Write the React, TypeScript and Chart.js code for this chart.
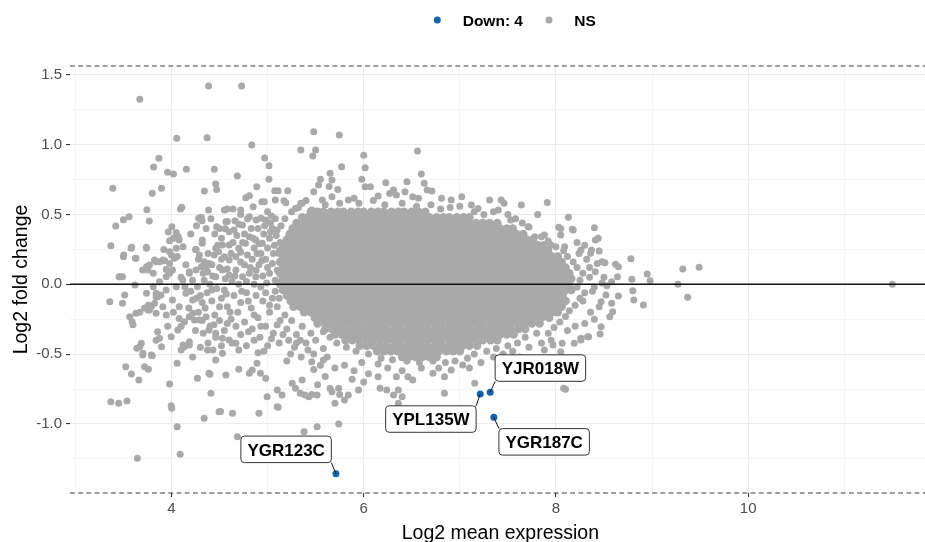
import React, { useEffect, useRef } from 'react';
import { Chart, registerables } from 'chart.js';

Chart.register(...registerables);

// ---------------- DATA ----------------
// Dense core of the NS cloud: each row is [log2FC, [log2 mean expression values]]
const nsCoreRows: [number, number[]][] = [
  [0.52, [5.45,5.52,5.58,5.66,5.73,5.79,5.87,5.94,6.00,6.08,6.15,6.21,6.29,6.36,6.42,6.50,6.57,6.64]],
  [0.48, [5.36,5.42,5.50,5.57,5.63,5.71,5.78,5.84,5.92,5.99,6.05,6.13,6.20,6.26,6.34,6.41,6.47,6.55,6.62,6.68,6.76,6.83,6.89,6.97,7.04,7.10]],
  [0.44, [5.30,5.38,5.45,5.52,5.59,5.66,5.73,5.81,5.88,5.95,6.02,6.09,6.16,6.24,6.31,6.38,6.45,6.52,6.59,6.67,6.74,6.81,6.88,6.95,7.02,7.10,7.17,7.24,7.31,7.39]],
  [0.40, [5.26,5.34,5.41,5.48,5.55,5.62,5.70,5.77,5.84,5.91,5.98,6.05,6.13,6.20,6.27,6.34,6.41,6.48,6.56,6.63,6.70,6.77,6.84,6.91,6.99,7.06,7.13,7.20,7.27,7.34,7.42,7.49,7.55]],
  [0.36, [5.23,5.30,5.37,5.44,5.52,5.59,5.66,5.73,5.80,5.87,5.95,6.02,6.09,6.16,6.23,6.30,6.38,6.45,6.52,6.59,6.66,6.73,6.81,6.88,6.95,7.02,7.09,7.16,7.24,7.31,7.38,7.45,7.52,7.59,7.66]],
  [0.32, [5.20,5.27,5.34,5.41,5.48,5.55,5.62,5.69,5.77,5.84,5.91,5.98,6.05,6.12,6.20,6.27,6.34,6.41,6.48,6.55,6.63,6.70,6.77,6.84,6.91,6.98,7.06,7.13,7.20,7.27,7.34,7.41,7.49,7.56,7.63,7.70,7.76]],
  [0.28, [5.16,5.23,5.30,5.38,5.45,5.52,5.59,5.66,5.73,5.81,5.88,5.95,6.02,6.09,6.16,6.24,6.31,6.38,6.45,6.52,6.59,6.67,6.74,6.81,6.88,6.95,7.02,7.10,7.17,7.24,7.31,7.38,7.45,7.53,7.60,7.67,7.74,7.81,7.87]],
  [0.24, [5.13,5.20,5.27,5.34,5.41,5.49,5.56,5.63,5.70,5.77,5.84,5.92,5.99,6.06,6.13,6.20,6.27,6.35,6.42,6.49,6.56,6.63,6.70,6.78,6.85,6.92,6.99,7.06,7.13,7.21,7.28,7.35,7.42,7.49,7.56,7.64,7.71,7.78,7.85,7.92]],
  [0.20, [5.16,5.23,5.31,5.38,5.45,5.52,5.59,5.66,5.74,5.81,5.88,5.95,6.02,6.09,6.17,6.24,6.31,6.38,6.45,6.52,6.60,6.67,6.74,6.81,6.88,6.95,7.03,7.10,7.17,7.24,7.31,7.38,7.46,7.53,7.60,7.67,7.74,7.81,7.89,7.96,8.02]],
  [0.16, [5.13,5.20,5.27,5.35,5.42,5.49,5.56,5.63,5.70,5.78,5.85,5.92,5.99,6.06,6.13,6.21,6.28,6.35,6.42,6.49,6.56,6.64,6.71,6.78,6.85,6.92,6.99,7.07,7.14,7.21,7.28,7.35,7.42,7.50,7.57,7.64,7.71,7.78,7.85,7.93,8.00,8.06]],
  [0.12, [5.16,5.24,5.31,5.38,5.45,5.52,5.60,5.67,5.74,5.81,5.88,5.95,6.03,6.10,6.17,6.24,6.31,6.38,6.46,6.53,6.60,6.67,6.74,6.81,6.89,6.96,7.03,7.10,7.17,7.24,7.32,7.39,7.46,7.53,7.60,7.67,7.75,7.82,7.89,7.96,8.03,8.10]],
  [0.08, [5.13,5.20,5.27,5.34,5.42,5.49,5.56,5.63,5.70,5.77,5.85,5.92,5.99,6.06,6.13,6.20,6.28,6.35,6.42,6.49,6.56,6.63,6.71,6.78,6.85,6.92,6.99,7.06,7.14,7.21,7.28,7.35,7.42,7.49,7.57,7.64,7.71,7.78,7.85,7.92,8.00,8.07,8.14]],
  [0.04, [5.16,5.24,5.31,5.38,5.45,5.52,5.60,5.67,5.74,5.81,5.88,5.95,6.03,6.10,6.17,6.24,6.31,6.38,6.46,6.53,6.60,6.67,6.74,6.81,6.89,6.96,7.03,7.10,7.17,7.24,7.32,7.39,7.46,7.53,7.60,7.67,7.75,7.82,7.89,7.96,8.03,8.10,8.16]],
  [0.00, [5.13,5.20,5.27,5.34,5.42,5.49,5.56,5.63,5.70,5.77,5.85,5.92,5.99,6.06,6.13,6.20,6.28,6.35,6.42,6.49,6.56,6.63,6.71,6.78,6.85,6.92,6.99,7.06,7.14,7.21,7.28,7.35,7.42,7.49,7.57,7.64,7.71,7.78,7.85,7.92,8.00,8.07,8.14]],
  [-0.04, [5.16,5.24,5.31,5.38,5.45,5.52,5.60,5.67,5.74,5.81,5.88,5.95,6.03,6.10,6.17,6.24,6.31,6.38,6.46,6.53,6.60,6.67,6.74,6.81,6.89,6.96,7.03,7.10,7.17,7.24,7.32,7.39,7.46,7.53,7.60,7.67,7.75,7.82,7.89,7.96,8.03,8.10,8.16]],
  [-0.08, [5.20,5.27,5.34,5.42,5.49,5.56,5.63,5.70,5.77,5.85,5.92,5.99,6.06,6.13,6.20,6.28,6.35,6.42,6.49,6.56,6.63,6.71,6.78,6.85,6.92,6.99,7.06,7.14,7.21,7.28,7.35,7.42,7.49,7.57,7.64,7.71,7.78,7.85,7.92,8.00,8.07]],
  [-0.12, [5.24,5.31,5.38,5.45,5.52,5.60,5.67,5.74,5.81,5.88,5.95,6.03,6.10,6.17,6.24,6.31,6.38,6.46,6.53,6.60,6.67,6.74,6.81,6.89,6.96,7.03,7.10,7.17,7.24,7.32,7.39,7.46,7.53,7.60,7.67,7.75,7.82,7.89,7.96,8.03,8.10]],
  [-0.16, [5.27,5.34,5.42,5.49,5.56,5.63,5.70,5.77,5.85,5.92,5.99,6.06,6.13,6.20,6.28,6.35,6.42,6.49,6.56,6.63,6.71,6.78,6.85,6.92,6.99,7.06,7.14,7.21,7.28,7.35,7.42,7.49,7.57,7.64,7.71,7.78,7.85,7.92,8.00,8.06]],
  [-0.20, [5.38,5.45,5.52,5.60,5.67,5.74,5.81,5.88,5.95,6.03,6.10,6.17,6.24,6.31,6.38,6.46,6.53,6.60,6.67,6.74,6.81,6.89,6.96,7.03,7.10,7.17,7.24,7.32,7.39,7.46,7.53,7.60,7.67,7.75,7.82,7.89,7.96,8.02]],
  [-0.24, [5.49,5.56,5.63,5.70,5.77,5.85,5.92,5.99,6.06,6.13,6.20,6.28,6.35,6.42,6.49,6.56,6.63,6.71,6.78,6.85,6.92,6.99,7.06,7.14,7.21,7.28,7.35,7.42,7.49,7.57,7.64,7.71,7.78,7.85,7.93]],
  [-0.28, [5.52,5.60,5.67,5.74,5.81,5.88,5.95,6.03,6.10,6.17,6.24,6.31,6.38,6.46,6.53,6.60,6.67,6.74,6.81,6.89,6.96,7.03,7.10,7.17,7.24,7.32,7.39,7.46,7.53,7.60,7.67,7.75,7.83]],
  [-0.32, [5.60,5.67,5.74,5.81,5.89,5.96,6.03,6.10,6.17,6.24,6.32,6.39,6.46,6.53,6.60,6.67,6.75,6.82,6.89,6.96,7.03,7.10,7.18,7.25,7.32,7.39,7.46,7.53,7.61,7.68]],
  [-0.36, [5.70,5.77,5.85,5.92,5.99,6.06,6.13,6.20,6.28,6.35,6.42,6.49,6.56,6.63,6.71,6.78,6.85,6.92,6.99,7.06,7.14,7.21,7.28,7.35,7.42,7.49,7.56]],
  [-0.40, [5.81,5.88,5.95,6.03,6.10,6.17,6.24,6.31,6.38,6.46,6.53,6.60,6.67,6.74,6.81,6.89,6.96,7.03,7.10,7.17,7.24,7.32,7.39]],
  [-0.44, [5.96,6.03,6.10,6.17,6.24,6.32,6.39,6.46,6.53,6.60,6.67,6.75,6.82,6.89,6.96,7.03,7.10,7.18]],
  [-0.48, [6.14,6.21,6.28,6.35,6.42,6.50,6.57,6.64,6.71,6.78,6.86,6.93,7.00]],
  [-0.52, [6.40,6.47,6.54,6.61,6.68,6.76]],
];

// Scattered NS genes outside the dense core: [log2 mean expression, log2FC]
const nsScatter: [number, number][] = [
  // top-left outliers
  [3.67,1.325],[4.386,1.42],[4.73,1.42],[4.055,1.046],[4.37,1.05],[4.835,0.998],[5.48,1.093],[5.746,1.07],
  [5.346,0.962],[5.50,0.962],[5.47,0.919],[6.0,0.924],[6.56,0.955],[4.97,0.905],[5.014,0.85],[5.014,0.752],
  [3.869,0.903],[3.814,0.84],[3.959,0.802],[4.021,0.79],[4.155,0.824],[4.445,0.824],[4.686,0.776],[3.389,0.688],
  [3.896,0.688],[3.80,0.652],[4.093,0.539],[4.107,0.552],[3.744,0.534],[3.769,0.453],[3.558,0.484],[3.50,0.463],
  [3.42,0.418],[4.003,0.413],[3.966,0.375],[4.049,0.372],[4.07,0.341],[3.98,0.312],[4.08,0.317],[4.02,0.33],
  [3.369,0.277],[3.586,0.265],[3.738,0.265],[4.283,0.473],[4.25,0.25],
  // x 3.3-4.4 around zero and below
  [3.503,0.21],[3.624,0.186],[3.469,0.054],[3.49,0.054],[3.358,-0.125],[3.513,-0.077],[3.49,-0.136],[3.62,-0.005],
  [3.565,-0.232],[3.59,-0.268],[3.60,-0.29],[3.67,-0.2],[3.72,-0.17],[3.76,-0.15],[3.63,-0.208],[3.755,-0.184],
  [3.79,-0.16],[3.824,-0.136],[3.858,-0.089],[3.89,-0.077],[3.84,-0.064],[3.945,-0.22],[3.64,-0.458],[3.686,-0.423],
  [3.703,-0.494],[3.80,-0.511],[3.524,-0.59],[3.583,-0.643],[3.66,-0.686],[3.72,-0.59],[3.76,-0.609],[3.98,-0.714],
  [3.369,-0.841],[3.451,-0.852],[3.537,-0.836],[3.997,-0.87],[4.003,-0.888],[4.059,-1.02],[3.645,-1.246],[4.09,-1.218],
  [3.896,-0.447],[3.84,-0.40],[3.855,-0.34],[3.876,-0.387],[3.997,-0.375],[4.065,-0.327],[4.059,-0.566],[4.10,-0.47],
  [4.135,-0.447],[4.186,-0.435],[4.22,-0.52],[4.27,-0.673],[4.08,-0.244],[4.135,-0.268],[4.186,-0.232],[4.238,-0.256],
  [3.67,-0.447],[3.70,-0.506],[3.79,-0.506],[4.12,-0.435],
  [3.74,0.258],[3.58,0.258],[3.63,0.186],[3.50,0.198],[4.256,0.25],[4.29,0.21],[4.34,0.162],[4.36,0.126],
  [4.375,0.09],[3.98,0.234],[4.0,0.21],[4.03,0.186],[4.05,0.258],[3.824,0.174],[3.876,0.162],[3.93,0.169],
  [3.74,0.126],[3.755,0.102],[3.81,0.079],[3.945,0.107],[3.98,0.079],[3.455,0.054],[4.186,0.09],[4.256,0.102],
  [4.31,0.126],[4.39,0.15],[3.70,0.102],[3.77,0.138],[3.84,0.162],[3.91,0.174],[3.98,0.15],[4.01,0.102],
  [3.945,0.054],[3.876,0.019],[3.81,-0.017],[3.74,-0.064],[3.84,-0.089],[3.945,-0.041],[4.05,-0.017],[4.117,0.031],
  [4.186,0.079],[4.15,-0.064],[4.22,-0.112],[4.08,-0.16],[4.01,-0.112],[3.77,-0.184],[3.84,-0.208],[3.91,-0.16],
  [4.27,-0.017],
  [4.10,0.05],[4.15,0.14],[4.22,0.03],[4.28,0.18],[4.33,0.08],[4.06,0.20],[4.12,0.27],[4.20,0.36],
  [4.26,0.42],[4.14,-0.02],[4.20,-0.05],[4.26,-0.10],[4.32,-0.13],[4.18,-0.17],[4.10,-0.30],[4.25,-0.33],
  [4.30,-0.45],[3.96,-0.30],[4.02,-0.20],[3.92,0.25],
  // x 4.3-5.2 upper part
  [4.46,0.718],[4.47,0.68],[4.342,0.668],[4.887,0.699],[5.074,0.67],[5.11,0.67],[5.21,0.67],[4.773,0.62],
  [4.81,0.635],[4.94,0.592],[4.965,0.592],[4.85,0.556],[5.08,0.604],[5.17,0.599],[5.19,0.585],[5.346,0.58],
  [5.29,0.544],[4.386,0.532],[4.55,0.532],[4.58,0.539],[4.64,0.539],[4.72,0.532],[4.72,0.501],[4.31,0.48],
  [4.318,0.456],[4.566,0.448],[4.66,0.456],[4.738,0.425],[4.81,0.484],[4.93,0.473],[4.98,0.46],[5.05,0.40],
  [5.03,0.377],[4.47,0.413],[4.56,0.398],[4.60,0.377],[4.65,0.389],[4.32,0.317],[4.32,0.294],[4.46,0.258],
  [4.49,0.234],[4.445,0.21],[4.53,0.282],[4.60,0.282],[4.55,0.198],[4.60,0.174],[4.67,0.198],[4.70,0.258],
  [4.77,0.294],[4.81,0.341],[4.877,0.317],[4.945,0.294],[4.46,0.054],[4.53,0.102],[4.60,0.067],[4.67,0.102],
  [4.74,0.054],[4.81,0.079],[4.877,0.054],
  [4.90,0.40],[4.96,0.36],[5.02,0.33],[5.09,0.35],[5.14,0.42],[5.18,0.47],[5.08,0.47],[5.00,0.52],
  [4.86,0.26],[4.93,0.22],[5.00,0.26],[5.07,0.28],[5.12,0.22],[4.84,0.18],[4.91,0.14],[4.98,0.18],
  [5.05,0.15],[5.10,0.10],[4.88,0.10],[4.95,0.06],[5.02,0.08],[5.08,0.03],[4.76,0.14],[4.72,0.23],
  [4.64,0.30],[4.83,0.40],[4.76,0.36],[4.70,0.43],[4.88,0.46],[5.03,0.44],[4.99,0.01],[4.93,-0.02],
  [4.86,0.00],[4.78,0.02],[4.70,0.00],[4.63,0.02],[4.56,0.04],[4.50,0.12],[4.43,0.06],[4.40,0.00],
  [4.47,-0.03],[4.55,-0.04],[4.34,0.03],
  [4.45,0.36],[4.52,0.33],[4.58,0.45],[4.62,0.22],[4.68,0.35],[4.74,0.30],[4.79,0.47],[4.85,0.33],
  [4.91,0.29],[4.97,0.42],[5.04,0.49],[5.10,0.39],[5.13,0.30],[5.06,0.22],[5.00,0.12],[4.94,0.17],
  [4.89,0.22],[4.82,0.12],[4.79,0.21],[4.72,0.16],[4.66,0.06],[4.58,0.11],[4.52,0.18],[4.48,0.28],
  [4.42,0.14],[4.38,0.22],[4.36,0.40],[4.41,0.47],[4.50,0.40],
  // x 4.2-5.6 lower part
  [4.30,-0.08],[4.37,-0.06],[4.42,-0.12],[4.35,-0.17],[4.28,-0.20],[4.45,-0.22],[4.52,-0.10],[4.58,-0.16],
  [4.50,-0.26],[4.40,-0.30],[4.33,-0.35],[4.46,-0.38],[4.55,-0.33],[4.62,-0.25],[4.65,-0.08],[4.72,-0.13],
  [4.78,-0.06],[4.69,-0.20],[4.76,-0.27],[4.83,-0.17],[4.88,-0.08],[4.95,-0.12],[4.90,-0.24],[4.84,-0.32],
  [4.72,-0.36],[4.63,-0.42],[4.78,-0.44],[4.92,-0.38],[4.98,-0.30],[5.02,-0.20],[5.05,-0.10],[5.10,-0.16],
  [5.13,-0.26],[5.06,-0.35],[5.00,-0.44],[4.90,-0.49],[5.12,-0.42],[5.20,-0.32],[5.18,-0.22],[5.25,-0.26],
  [5.30,-0.36],[5.36,-0.30],[5.28,-0.45],[5.40,-0.42],[5.45,-0.35],[5.50,-0.40],[5.48,-0.50],[5.35,-0.52],
  [5.20,-0.55],[5.58,-0.46],[5.62,-0.52],[5.55,-0.58],
  [4.42,-0.04],[4.50,-0.16],[4.57,-0.07],[4.61,-0.20],[4.67,-0.30],[4.73,-0.05],[4.80,-0.12],[4.86,-0.22],
  [4.93,-0.30],[4.98,-0.06],[5.02,-0.15],[5.08,-0.05],[5.12,-0.10],[5.10,-0.29],[5.04,-0.39],[4.96,-0.48],
  [4.86,-0.40],[4.80,-0.34],[4.70,-0.47],[4.58,-0.28],[4.52,-0.44],[4.44,-0.29],[4.38,-0.42],[4.32,-0.26],
  [5.16,-0.36],[5.22,-0.40],[5.24,-0.50],[5.30,-0.42],[5.42,-0.47],[5.34,-0.40],
  [4.22,-0.208],[4.29,-0.256],[4.36,-0.232],[4.39,-0.327],[4.46,-0.351],[4.53,-0.387],[4.60,-0.399],[4.67,-0.423],
  [4.53,-0.494],[4.43,-0.47],[4.186,-0.411],
  [4.375,-0.47],[4.46,-0.542],[4.39,-0.637],[4.41,-0.78],[4.495,-0.913],[4.566,-0.65],[4.635,-0.924],[4.70,-0.609],
  [4.84,-0.614],[4.89,-0.566],[4.925,-0.637],[4.98,-0.673],[4.995,-0.805],[5.10,-0.877],[5.15,-0.793],[4.91,-0.924],
  [4.34,-0.96],[4.686,-1.092],[5.256,-0.709],[5.29,-0.745],[5.34,-0.78],[5.36,-0.686],[5.38,-1.056],[4.51,-0.912],
  [5.11,-0.88],[5.515,-1.02],[5.74,-1.0],[4.40,-0.645],[4.81,-0.637],[5.10,-0.757],[5.43,-0.805],[5.515,-0.793],
  [5.67,-0.77],[5.70,-0.852],[5.80,-0.829],[5.74,-0.745],[5.946,-0.757],[6.17,-0.745],[6.36,-0.757],[6.40,-0.805],
  [6.36,-0.852],[6.84,-0.78],[7.155,-0.709],[8.10,-0.752],[8.065,-0.423],
  // upper fringe of the core
  [5.73,0.68],[5.64,0.70],[5.77,0.842],[6.015,0.835],[6.6,0.79],[5.98,0.752],[5.65,0.795],[5.67,0.747],
  [5.55,0.752],[5.53,0.711],[5.48,0.663],[6.015,0.699],[6.07,0.699],[6.23,0.728],[6.45,0.735],[6.63,0.724],
  [6.66,0.676],[6.71,0.668],[6.15,0.633],[6.31,0.676],[6.34,0.64],[6.27,0.65],[7.02,0.628],[7.31,0.604],
  [7.43,0.604],[7.46,0.58],[7.91,0.587],[7.64,0.568],[7.81,0.501],[5.36,0.58],[5.46,0.532],[5.57,0.604],
  [5.67,0.628],[5.84,0.604],[5.9,0.616],[6.43,0.663],[6.51,0.628],[6.57,0.616],[6.81,0.616],[6.91,0.604],
  [7.12,0.568],[7.19,0.544],[7.40,0.532],[7.53,0.46],[7.71,0.413],[7.78,0.341],[7.88,0.353],[7.95,0.282],
  [5.25,0.52],[5.32,0.55],[5.40,0.60],[5.60,0.57],[5.75,0.58],[5.95,0.58],[6.10,0.60],[6.22,0.57],
  [6.40,0.58],[6.55,0.56],[6.70,0.57],[6.80,0.54],[6.90,0.55],[7.00,0.56],[7.15,0.52],[7.25,0.50],
  [7.35,0.52],[7.50,0.50],[7.58,0.47],[7.65,0.44],[7.72,0.41],[7.85,0.34],[7.92,0.31],[8.00,0.27],
  [8.08,0.24],[8.12,0.20],[8.18,0.16],[8.22,0.12],[8.28,0.08],[8.25,0.03],[8.22,-0.02],[8.30,-0.06],
  [8.25,-0.10],[8.20,-0.15],[8.14,-0.19],[8.10,-0.23],[8.04,-0.27],[7.98,-0.31],[7.92,-0.35],[7.80,-0.35],
  [7.68,-0.38],[7.60,-0.42],[7.50,-0.44],[7.38,-0.46],[7.28,-0.48],[7.15,-0.50],[7.08,-0.53],[6.95,-0.55],
  [6.85,-0.56],[6.72,-0.55],[6.58,-0.56],[6.45,-0.55],[6.30,-0.54],[6.18,-0.53],[6.05,-0.50],[5.92,-0.48],
  [5.82,-0.45],[5.72,-0.42],[5.65,-0.38],[5.58,-0.34],
  // lower fringe
  [5.46,-0.554],[5.58,-0.542],[5.48,-0.61],[5.65,-0.745],[5.75,-0.79],[5.84,-0.793],[5.39,-0.793],[5.46,-0.79],
  [6.15,-0.662],[6.24,-0.757],[6.31,-0.793],[6.34,-0.662],[6.15,-0.57],[6.46,-0.662],[6.51,-0.686],[6.72,-0.637],
  [6.84,-0.662],[6.91,-0.614],[7.03,-0.578],[8.08,-0.745],[8.19,-0.423],[8.26,-0.387],[8.33,-0.375],[8.05,-0.483],
  [5.70,-0.60],[5.80,-0.58],[5.90,-0.62],[5.98,-0.56],[6.05,-0.64],[6.25,-0.60],[6.40,-0.62],[6.60,-0.60],
  [6.78,-0.60],[7.10,-0.60],[7.22,-0.56],[7.35,-0.52],[7.45,-0.50],[7.55,-0.48],[7.62,-0.52],[7.72,-0.45],
  [7.85,-0.42],[7.95,-0.40],[5.88,-0.68],[6.00,-0.70],[5.60,-0.66],[5.52,-0.72],
  // right side
  [8.13,0.48],[8.40,0.405],[8.18,0.389],[8.05,0.40],[8.44,0.33],[8.37,0.246],[8.45,0.238],[8.78,0.183],
  [8.62,0.143],[8.65,0.126],[8.48,0.162],[8.51,0.155],[8.95,0.074],[8.98,0.026],[8.79,0.036],[8.80,-0.046],
  [9.32,0.11],[9.49,0.122],[9.27,0.0],[9.37,-0.093],[8.81,-0.112],[8.91,-0.148],[8.65,-0.084],[8.58,-0.136],
  [8.59,-0.196],[8.56,-0.232],[8.52,-0.077],[8.47,-0.125],[8.45,-0.16],[8.47,-0.304],[8.46,-0.356],[8.34,-0.375],
  [8.26,-0.399],[7.97,-0.435],[7.88,-0.47],[8.64,0.054],[8.58,0.019],[8.50,0.05],[8.48,0.01],[8.53,-0.01],
  [8.41,0.09],[8.43,0.15],[8.36,0.222],[8.26,0.246],[8.41,0.317],[8.09,0.27],[8.05,0.353],[8.35,0.05],
  [8.38,-0.05],[8.36,-0.20],[8.30,-0.28],[8.40,-0.25],[8.22,0.30],[8.32,0.18],[8.28,-0.12],[8.40,-0.02],
  [8.35,0.12],[8.24,0.22],[8.20,-0.30],[8.12,-0.33],[8.30,0.28],[8.17,0.394],[8.03,0.408],
  [11.50,0.0],
];

// Significantly down-regulated genes
const downGenes = ['YGR123C', 'YPL135W', 'YJR018W', 'YGR187C'];
const downX = [5.711, 7.212, 7.316, 7.354];
const downY = [-1.357, -0.786, -0.774, -0.953];

// Axes
const xTickValues = [3, 4, 5, 6, 7, 8, 9, 10, 11];
const xMajorTicks = [4, 6, 8, 10];
const yTickValues = [-1.25, -1, -0.75, -0.5, -0.25, 0, 0.25, 0.5, 0.75, 1, 1.25, 1.5];
const yMajorTicks = [-1, -0.5, 0, 0.5, 1, 1.5];
const legendLabels = ['Down: 4', 'NS'];
const xTitle = 'Log2 mean expression';
const yTitle = 'Log2 fold change';

// ---------------- STYLE ----------------
const FONT = '"Liberation Sans", Arial, Helvetica, sans-serif';
const GRAY = '#A9A9A9';
const BLUE = '#1465AC';
// label box centre offsets (px) relative to their point
const labelOffsets: [number, number][] = [[-49.8, -24.4], [-49.3, 25], [50.2, -24.3], [50.3, 24.5]];

export default function App() {
  const ref = useRef<HTMLCanvasElement>(null);

  useEffect(() => {
    const canvas = ref.current;
    if (!canvas) return;

    const coreData = nsCoreRows.flatMap(([y, xs]) => xs.map((x) => ({ x, y })));
    const scatterData = nsScatter.map(([x, y]) => ({ x, y }));
    const downData = downX.map((x, i) => ({ x, y: downY[i] }));

    const decor = {
      id: 'decor',
      beforeDatasetsDraw(chart: any) {
        const { ctx, chartArea } = chart;
        ctx.save();
        ctx.strokeStyle = '#3a3a3a';
        ctx.lineWidth = 1;
        ctx.setLineDash([4.8, 3.4]);
        [chartArea.top, chartArea.bottom].forEach((y: number) => {
          ctx.beginPath();
          ctx.moveTo(chartArea.left, y);
          ctx.lineTo(chartArea.right, y);
          ctx.stroke();
        });
        ctx.restore();
      },
      afterDatasetsDraw(chart: any) {
        const { ctx, chartArea, scales } = chart;
        const xs = scales.x;
        const ys = scales.y;
        ctx.save();
        ctx.strokeStyle = '#111';
        ctx.lineWidth = 1.4;
        const y0 = ys.getPixelForValue(0);
        ctx.beginPath();
        ctx.moveTo(chartArea.left, y0);
        ctx.lineTo(chartArea.right, y0);
        ctx.stroke();

        ctx.font = `bold 17px ${FONT}`;
        downGenes.forEach((name, i) => {
          const px = xs.getPixelForValue(downX[i]);
          const py = ys.getPixelForValue(downY[i]);
          const cx = px + labelOffsets[i][0];
          const cy = py + labelOffsets[i][1];
          const w = ctx.measureText(name).width + 13;
          const h = 26.5;
          const x0 = cx - w / 2, x1 = cx + w / 2, y0b = cy - h / 2, y1b = cy + h / 2;
          const ex = Math.min(Math.max(px, x0), x1);
          const ey = Math.min(Math.max(py, y0b), y1b);
          ctx.strokeStyle = '#111';
          ctx.lineWidth = 1;
          ctx.beginPath();
          ctx.moveTo(px, py);
          ctx.lineTo(ex, ey);
          ctx.stroke();
          ctx.beginPath();
          ctx.roundRect(x0, y0b, w, h, 3.5);
          ctx.fillStyle = '#fff';
          ctx.fill();
          ctx.strokeStyle = '#333';
          ctx.stroke();
          ctx.fillStyle = '#000';
          ctx.textAlign = 'center';
          ctx.textBaseline = 'alphabetic';
          ctx.fillText(name, cx, cy + 6.3);
        });
        ctx.restore();
      },
      afterDraw(chart: any) {
        const { ctx, chartArea } = chart;
        ctx.save();
        ctx.fillStyle = '#000';
        ctx.font = `19.5px ${FONT}`;
        ctx.textAlign = 'center';
        ctx.textBaseline = 'alphabetic';
        ctx.fillText(xTitle, (chartArea.left + chartArea.right) / 2, 539);
        ctx.translate(27, (chartArea.top + chartArea.bottom) / 2);
        ctx.rotate(-Math.PI / 2);
        ctx.fillText(yTitle, 0, 0);
        ctx.restore();

        ctx.save();
        ctx.font = `bold 15.5px ${FONT}`;
        ctx.textAlign = 'left';
        ctx.textBaseline = 'alphabetic';
        const items: [string, string, number, number][] = [
          [legendLabels[0], BLUE, 437.3, 462.7],
          [legendLabels[1], GRAY, 549, 574.3],
        ];
        items.forEach(([txt, col, dx, tx]) => {
          ctx.fillStyle = col;
          ctx.beginPath();
          ctx.arc(dx, 20, 3.5, 0, Math.PI * 2);
          ctx.fill();
          ctx.fillStyle = '#000';
          ctx.fillText(txt, tx, 25.8);
        });
        ctx.restore();
      },
    };

    const pointStyle = { borderWidth: 0, pointBorderWidth: 0 };

    const chart = new Chart(canvas, {
      type: 'scatter',
      data: {
        datasets: [
          { label: 'Down', data: downData, backgroundColor: BLUE, pointRadius: 3.5, pointHoverRadius: 3.5, ...pointStyle },
          { label: 'NS', data: scatterData, backgroundColor: GRAY, pointRadius: 3.5, pointHoverRadius: 3.5, ...pointStyle },
          { label: 'NS core', data: coreData, backgroundColor: GRAY, pointRadius: 4.25, pointHoverRadius: 4.25, ...pointStyle },
        ],
      },
      options: {
        responsive: false,
        maintainAspectRatio: false,
        devicePixelRatio: 1,
        animation: false,
        events: [],
        layout: { padding: { top: 66, left: 0, right: 0, bottom: 0 } },
        plugins: { legend: { display: false }, tooltip: { enabled: false }, title: { display: false } },
        scales: {
          x: {
            type: 'linear',
            position: 'bottom',
            min: 2.944,
            max: 11.9,
            bounds: 'data',
            afterBuildTicks: (axis: any) => {
              axis.ticks = xTickValues.map((v) => ({ value: v }));
            },
            afterFit: (axis: any) => {
              axis.height = 49;
            },
            border: { display: false },
            grid: {
              drawTicks: true,
              tickLength: 4,
              color: (c: any) => (c.tick && xMajorTicks.includes(c.tick.value) ? '#EBEBEB' : '#F2F2F2'),
              lineWidth: (c: any) => (c.tick && xMajorTicks.includes(c.tick.value) ? 1.1 : 0.8),
              tickColor: (c: any) => (c.tick && xMajorTicks.includes(c.tick.value) ? '#333333' : 'rgba(0,0,0,0)'),
              tickWidth: 1.1,
            },
            ticks: {
              autoSkip: false,
              maxRotation: 0,
              padding: 3,
              color: '#4D4D4D',
              font: { family: FONT, size: 15 },
              callback: (v: any) => (xMajorTicks.includes(Number(v)) ? String(v) : ''),
            },
          },
          y: {
            type: 'linear',
            min: -1.495,
            max: 1.564,
            bounds: 'data',
            afterBuildTicks: (axis: any) => {
              axis.ticks = yTickValues.map((v) => ({ value: v }));
            },
            afterFit: (axis: any) => {
              axis.width = 70;
            },
            border: { display: false },
            grid: {
              drawTicks: true,
              tickLength: 4,
              color: (c: any) => (c.tick && yMajorTicks.includes(c.tick.value) ? '#EBEBEB' : '#F2F2F2'),
              lineWidth: (c: any) => (c.tick && yMajorTicks.includes(c.tick.value) ? 1.1 : 0.8),
              tickColor: (c: any) => (c.tick && yMajorTicks.includes(c.tick.value) ? '#333333' : 'rgba(0,0,0,0)'),
              tickWidth: 1.1,
            },
            ticks: {
              autoSkip: false,
              padding: 4,
              color: '#4D4D4D',
              font: { family: FONT, size: 15 },
              callback: (v: any) => (yMajorTicks.includes(Number(v)) ? Number(v).toFixed(1) : ''),
            },
          },
        },
      },
      plugins: [decor],
    });

    return () => chart.destroy();
  }, []);

  return (
    <div
      style={{
        position: 'fixed',
        left: 0,
        top: 0,
        width: 925,
        height: 542,
        overflow: 'hidden',
        background: '#fff',
      }}
    >
      <canvas ref={ref} width={935} height={542} style={{ display: 'block', width: 935, height: 542 }} />
    </div>
  );
}
